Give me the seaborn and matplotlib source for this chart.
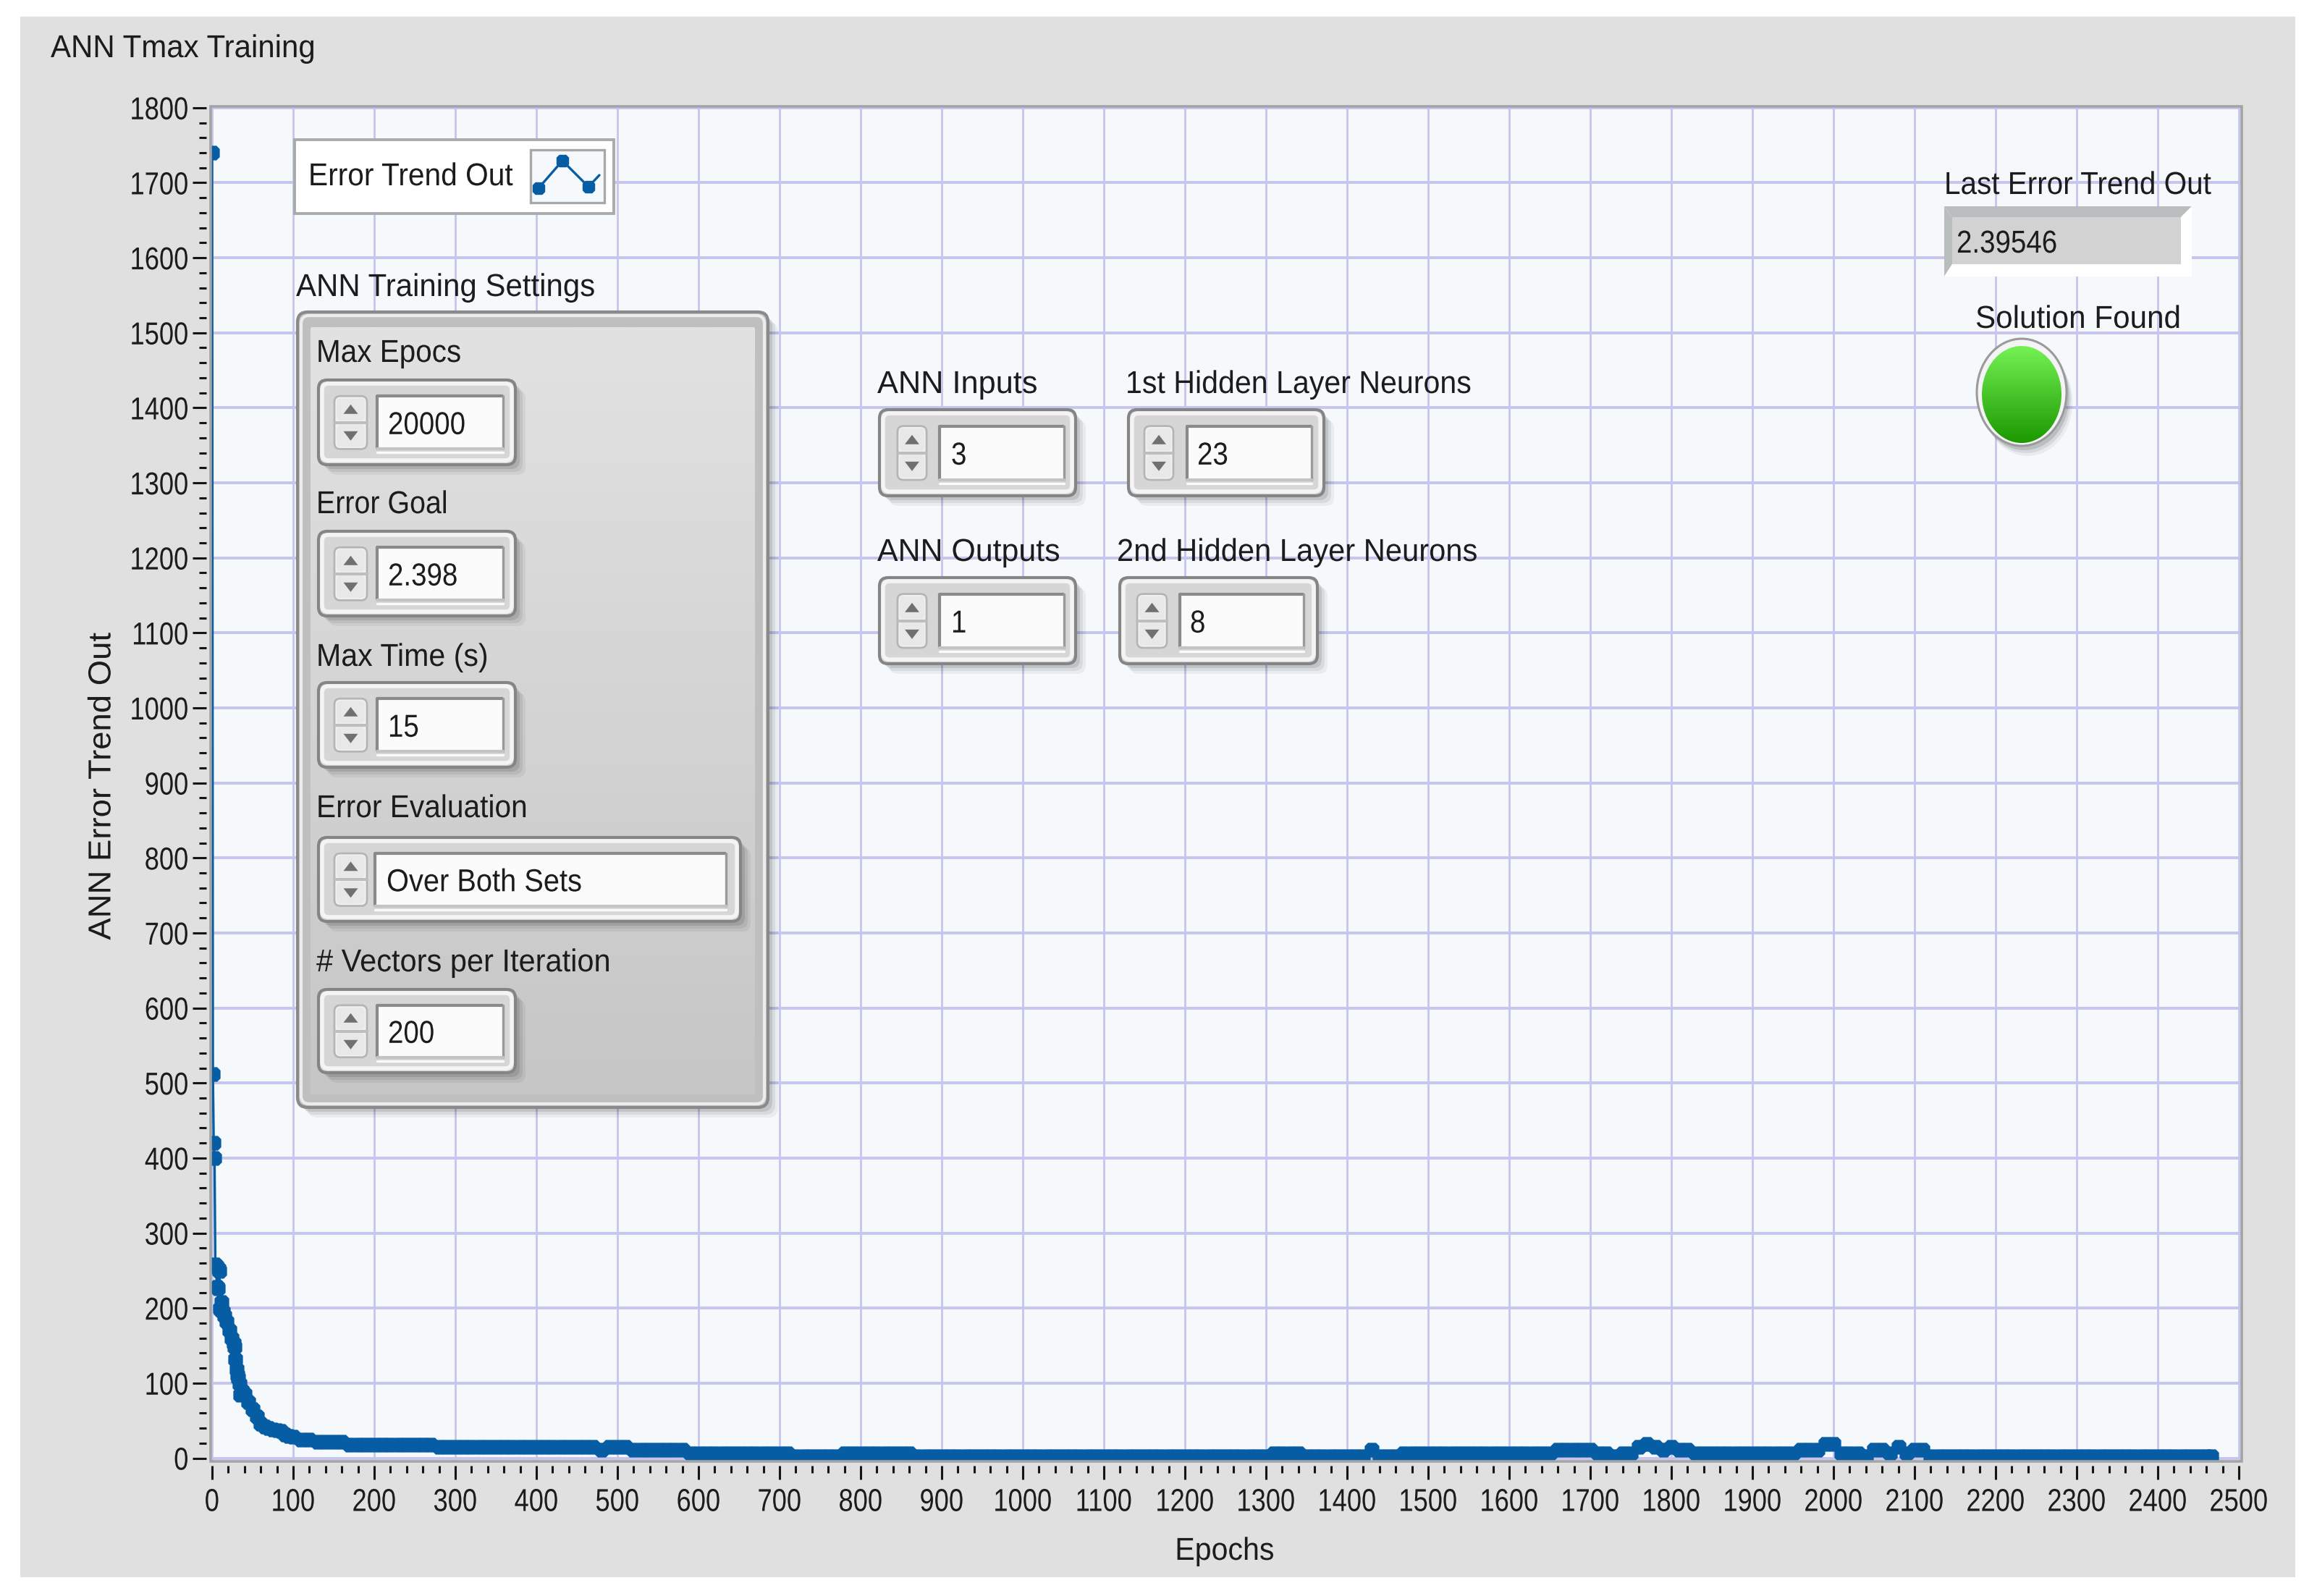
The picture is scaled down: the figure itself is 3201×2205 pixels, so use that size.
import numpy as np
import matplotlib
matplotlib.use("Agg")
import matplotlib.pyplot as plt
from matplotlib.patches import Rectangle, FancyBboxPatch, Ellipse, Polygon
from matplotlib.patheffects import AbstractPathEffect
from matplotlib.path import Path
from matplotlib.transforms import Affine2D
import seaborn as sns

# ---------- data ----------
head_epochs = [0, 1, 2, 3, 4, 5, 6, 7, 8, 9, 10, 11, 12, 13, 15, 18, 21, 24, 27, 28,
               29, 30, 31, 32, 34, 35, 37, 40, 45, 50, 55, 60, 65, 70, 75, 80, 85, 90, 95]
head_errors = [1740, 512, 420, 400, 258, 256, 228, 226, 252, 249, 199, 197, 208, 195, 190, 182, 170, 160, 153, 148,
               132, 118, 110, 107, 99, 84, 90, 85, 75, 65, 55, 46, 42, 40, 38, 37, 36, 31, 29]
tail_epochs = list(range(100, 2470, 10)) + [2466]
tail_errors = [
    28, 25, 25, 22, 22, 22, 22, 18, 18, 18,
    18, 18, 18, 18, 18, 18, 18, 18, 14.7, 14.7,
    14.7, 14.7, 14.7, 14.7, 14.7, 14.7, 14.7, 14.7, 14.7, 14.7,
    14.7, 14.7, 14.7, 14.7, 14.7, 14.7, 14.7, 14.7, 10.8, 14.7,
    14.7, 14.7, 10.8, 10.8, 10.8, 10.8, 10.8, 10.8, 10.8, 6.6,
    6.6, 6.6, 6.6, 6.6, 6.6, 6.6, 6.6, 6.6, 6.6, 6.6,
    6.6, 6.6, 2.7, 2.7, 2.7, 2.7, 2.7, 2.7, 6.6, 6.6,
    6.6, 6.6, 6.6, 6.6, 6.6, 6.6, 6.6, 2.7, 2.7, 2.7,
    2.7, 2.7, 2.7, 2.7, 2.7, 2.7, 2.7, 2.7, 2.7, 2.7,
    2.7, 2.7, 2.7, 2.7, 2.7, 2.7, 2.7, 2.7, 2.7, 2.7,
    2.7, 2.7, 2.7, 2.7, 2.7, 2.7, 2.7, 2.7, 2.7, 2.7,
    2.7, 2.7, 2.7, 2.7, 2.7, 2.7, 2.7, 2.7, 2.7, 2.7,
    2.7, 6.6, 6.6, 6.6, 6.6, 2.7, 2.7, 2.7, 2.7, 2.7,
    2.7, 2.7, 2.7, 10.8, 2.7, 2.7, 2.7, 6.6, 6.6, 6.6,
    6.6, 6.6, 6.6, 6.6, 6.6, 6.6, 6.6, 6.6, 6.6, 6.6,
    6.6, 6.6, 6.6, 6.6, 6.6, 6.6, 10.8, 10.8, 10.8, 10.8,
    10.8, 6.6, 6.6, 2.7, 6.6, 6.6, 14.7, 18.5, 14.7, 10.8,
    14.7, 10.8, 10.8, 6.6, 6.6, 6.6, 6.6, 6.6, 6.6, 6.6,
    6.6, 6.6, 6.6, 6.6, 6.6, 6.6, 10.8, 10.8, 10.8, 18.5,
    18.5, 6.6, 6.6, 6.6, 2.7, 10.8, 10.8, 6.6, 14.7, 6.6,
    10.8, 10.8, 2.7, 2.7, 2.7, 2.7, 2.7, 2.7, 2.7, 2.7,
    2.7, 2.7, 2.7, 2.7, 2.7, 2.7, 2.7, 2.7, 2.7, 2.7,
    2.7, 2.7, 2.7, 2.7, 2.7, 2.7, 2.7, 2.7, 2.7, 2.7,
    2.7, 2.7, 2.7, 2.7, 2.7, 2.7, 2.7, 2.395,
]
epochs = head_epochs + tail_epochs
errors = head_errors + tail_errors
x_ticks = list(range(0, 2600, 100))
y_ticks = list(range(0, 1900, 100))

W, H = 3201, 2205
PANEL = "#E0E0E0"; PLOT = "#F5F9FB"; GRID = "#C5C5EE"; BLUE = "#075DA4"; INK = "#1C1C1C"

sns.set_theme(style="ticks")
plt.rcParams["font.family"] = ["Liberation Sans", "DejaVu Sans"]
FS = 31.5


class Squeeze(AbstractPathEffect):
    """Scale glyph widths along the text direction, as the condensed source font does."""

    def __init__(self, sx, anchor=0.0):
        super().__init__()
        self.sx, self.anchor = sx, anchor

    def draw_path(self, renderer, gc, tpath, affine, rgbFace=None):
        w = tpath.get_extents().x1 * self.anchor
        t = Affine2D().translate(-w, 0).scale(self.sx, 1).translate(w, 0) + affine
        renderer.draw_path(gc, tpath, t, rgbFace)


fig = plt.figure(figsize=(W / 100, H / 100), dpi=100, facecolor="white")


def pixel_axes(z):
    a = fig.add_axes([0, 0, 1, 1], zorder=z)
    a.set_xlim(0, W); a.set_ylim(H, 0); a.axis("off")
    return a


back = pixel_axes(0)
back.add_patch(Rectangle((28, 23), 3171 - 28, 2179 - 23, fc=PANEL, ec="none"))

# chamfered square, the blocky LabVIEW point style
c = 0.55
block = Path([(-c, -1), (c, -1), (1, -c), (1, c), (c, 1), (-c, 1), (-1, c), (-1, -c), (-c, -1)], closed=True)

# ---------- main plot ----------
L, T, R, B = 291, 147, 3097, 2019
ax = fig.add_axes([L / W, 1 - B / H, (R - L) / W, (B - T) / H], zorder=1)
ax.set_facecolor(PLOT)
sns.lineplot(x=epochs, y=errors, ax=ax, color=BLUE, linewidth=2.4, marker=block, markersize=14.6,
             markeredgewidth=0, estimator=None, sort=False, errorbar=None)
xs = 112.0; ys = 103.65
ax.set_xlim((L - 293) / xs * 100, (R - 293) / xs * 100)
ax.set_ylim((2014.5 - B) / ys * 100, (2014.5 - T) / ys * 100)
ax.set_xticks(x_ticks); ax.set_yticks(y_ticks)
ax.set_xticks([v for v in range(0, 2501, 20) if v % 100], minor=True)
ax.set_yticks([v for v in range(0, 1801, 20) if v % 100], minor=True)
ax.tick_params(axis="both", which="major", length=13.5, width=2.2, color="#151515",
               labelsize=FS, labelcolor=INK)
ax.tick_params(axis="both", which="minor", length=7.2, width=2.2, color="#151515")
ax.tick_params(axis="x", which="major", pad=8.5)
ax.tick_params(axis="y", which="major", pad=4)
ax.xaxis.grid(True, which="major", color=GRID, lw=2.0)
ax.yaxis.grid(True, which="major", color=GRID, lw=2.8)
ax.set_axisbelow(True)
for s in ax.spines.values():
    s.set_visible(False)
ax.spines["left"].set_position(("outward", 4.3))
ax.spines["bottom"].set_position(("outward", 4.3))
for lab in ax.get_xticklabels():
    lab.set_path_effects([Squeeze(0.83, 0.5)])
for lab in ax.get_yticklabels():
    lab.set_path_effects([Squeeze(0.83, 1.0)])

# ---------- LabVIEW front-panel widgets ----------
ui = pixel_axes(2)
ui.add_patch(Rectangle((L, T), R - L, B - T, fc="none", ec="#A4A4A4", lw=2.6))


def txt(x, cy, s, sx=0.94, ha="left", **k):
    t = ui.text(x, cy + 16, s, ha=ha, va="baseline", fontsize=FS, color=INK, **k)
    t.set_path_effects([Squeeze(sx, {"left": 0.0, "center": 0.5}[ha])])
    return t


def rbox(x0, y0, x1, y1, r=10, **k):
    p = FancyBboxPatch((x0, y0), x1 - x0, y1 - y0, boxstyle=f"round,pad=0,rounding_size={r}", **k)
    ui.add_patch(p)
    return p


def shadow(x0, y0, x1, y1, r=12):
    for d, a in ((14, .05), (10, .07), (6, .10)):
        rbox(x0 + d, y0 + d, x1 + d, y1 + d, r=r, fc="black", ec="none", alpha=a)


def gradient(x0, y0, x1, y1, top, bottom, clip):
    c0 = np.array(matplotlib.colors.to_rgb(top)); c1 = np.array(matplotlib.colors.to_rgb(bottom))
    t = np.linspace(0, 1, 128)[:, None, None]
    im = ui.imshow(c0 + (c1 - c0) * t, extent=(x0, x1, y1, y0), aspect="auto", zorder=clip.get_zorder(),
                   interpolation="bilinear")
    im.set_clip_path(clip)
    ui.set_xlim(0, W); ui.set_ylim(H, 0)


def spin(x0, y0, x1, y1, bx0, bx1, fx0, fx1, text, tx, sx=0.88):
    h = y1 - y0
    shadow(x0, y0, x1, y1)
    rbox(x0, y0, x1, y1, r=12, fc="#D6D6D6", ec="#858585", lw=3)
    rbox(x0 + 5, y0 + 5, x1 - 5, y1 - 6, r=9, fc="none", ec="#F4F4F4", lw=4)
    fy0, fy1 = y0 + .19 * h, y1 - .185 * h
    ui.add_patch(Rectangle((fx0, fy0), fx1 - fx0, fy1 - fy0, fc="#FBFBFB", ec="none"))
    ui.plot([fx0, fx0, fx1], [fy1, fy0, fy0], color="#8A8A8A", lw=3.0, solid_capstyle="butt")
    ui.plot([fx1, fx1], [fy0, fy1], color="#9A9A9A", lw=2.4)
    ui.plot([fx0, fx1], [fy1, fy1], color="#C4C4C4", lw=3)
    ui.plot([fx0, fx1], [fy1 + 5, fy1 + 5], color="#FAFAFA", lw=2.4)
    rbox(bx0, fy0, bx1, fy1, r=8, fc="#F2F2F2", ec="#B5B5B5", lw=2)
    mid = (fy0 + fy1) / 2
    ui.plot([bx0, bx1], [mid, mid], color="#BEBEBE", lw=3)
    rbox(bx0 + 3, fy0 + 3, bx1 - 3, mid - 3, r=5, fc="#E8E8E8", ec="none")
    rbox(bx0 + 3, mid + 3, bx1 - 3, fy1 - 3, r=5, fc="#E8E8E8", ec="none")
    bc = (bx0 + bx1) / 2
    ui.add_patch(Polygon([(bc - 10, mid - 12), (bc + 10, mid - 12), (bc, mid - 25)], fc="#707070", ec="none"))
    ui.add_patch(Polygon([(bc - 10, mid + 12), (bc + 10, mid + 12), (bc, mid + 25)], fc="#707070", ec="none"))
    txt(tx, mid, text, sx=sx)


# title / axis labels
txt(70, 63, "ANN Tmax Training", sx=0.96)
yl = ui.text(141, 1086, "ANN Error Trend Out", rotation=90, ha="center", va="center", fontsize=FS, color=INK)
yl.set_path_effects([Squeeze(1.04, 0.5)])
txt(1692, 2139, "Epochs", ha="center")

# plot legend
ui.add_patch(Rectangle((407, 193), 441, 102, fc="white", ec="#ABABAB", lw=2.8))
txt(426, 240, "Error Trend Out", sx=0.93)
ui.add_patch(Rectangle((733, 207), 102, 73, fc=PLOT, ec="#A8A8A8", lw=2.4))
ui.plot([744, 777, 813, 828], [260, 222, 258, 242], color=BLUE, lw=2.4, zorder=5)
ui.plot([744, 777, 813], [260, 222, 258], ls="none", marker=block, ms=12.5, mec="none", color=BLUE, zorder=5)

# settings cluster
txt(409, 393, "ANN Training Settings", sx=0.96)
shadow(411, 431, 1061, 1530, r=14)
rbox(411, 431, 1061, 1530, r=14, fc="#BFBFBF", ec="#8A8A8A", lw=3)
rbox(416, 436, 1056, 1525, r=11, fc="none", ec="#ECECEC", lw=3)
inner = rbox(429, 452, 1043, 1512, r=2, fc="none", ec="none")
gradient(429, 452, 1043, 1512, "#E2E2E2", "#C6C6C6", inner)

txt(437, 484, "Max Epocs", sx=0.925)
spin(440, 525, 712, 642, 462, 507, 521, 695, "20000", 536)
txt(437, 693, "Error Goal", sx=0.90)
spin(440, 734, 712, 851, 462, 507, 521, 695, "2.398", 536)
txt(437, 904, "Max Time (s)", sx=0.94)
spin(440, 943, 712, 1060, 462, 507, 521, 695, "15", 536)
txt(437, 1113, "Error Evaluation", sx=0.93)
spin(440, 1157, 1023, 1273, 462, 507, 518, 1003, "Over Both Sets", 534, sx=0.91)
txt(437, 1326, "# Vectors per Iteration", sx=0.95)
spin(440, 1367, 712, 1482, 462, 507, 521, 695, "200", 536)

# network size controls
txt(1212, 527, "ANN Inputs", sx=0.99)
spin(1215, 566, 1486, 685, 1240, 1280, 1298, 1470, "3", 1314)
txt(1555, 527, "1st Hidden Layer Neurons", sx=0.94)
spin(1559, 566, 1829, 685, 1581, 1621, 1640, 1812, "23", 1654)
txt(1212, 759, "ANN Outputs", sx=0.98)
spin(1215, 798, 1486, 917, 1240, 1280, 1298, 1470, "1", 1314)
txt(1543, 759, "2nd Hidden Layer Neurons", sx=0.953)
spin(1547, 798, 1820, 917, 1571, 1612, 1630, 1801, "8", 1644)

# last-error indicator
txt(2686, 252, "Last Error Trend Out", sx=0.925)
ui.add_patch(Polygon([(2686, 285), (3028, 285), (3013, 300), (2697, 300)], fc="#B9BDBE", ec="none"))
ui.add_patch(Polygon([(2686, 285), (2697, 300), (2697, 365), (2686, 382)], fc="#B9BDBE", ec="none"))
ui.add_patch(Polygon([(3028, 285), (3028, 382), (3013, 365), (3013, 300)], fc="white", ec="none"))
ui.add_patch(Polygon([(2686, 382), (3028, 382), (3013, 365), (2697, 365)], fc="white", ec="none"))
ui.add_patch(Rectangle((2697, 300), 316, 65, fc="#D2D2D2", ec="none"))
txt(2703, 333, "2.39546", sx=0.88)

# solution LED
txt(2729, 437, "Solution Found", sx=0.965)
for d, a in ((14, .05), (10, .08), (6, .12)):
    ui.add_patch(Ellipse((2793 + d * .6, 542 + d), 124, 148, fc="black", ec="none", alpha=a))
ui.add_patch(Ellipse((2793, 542), 124, 148, fc="#F4F4F4", ec="#9A9A9A", lw=2.2))
led = Ellipse((2793, 545), 110, 134, fc="none", ec="none")
ui.add_patch(led)
gradient(2738, 478, 2848, 612, "#74F254", "#1C9800", led)

ui.set_xlim(0, W); ui.set_ylim(H, 0)
fig.savefig("out.png", dpi=100, facecolor="white")
